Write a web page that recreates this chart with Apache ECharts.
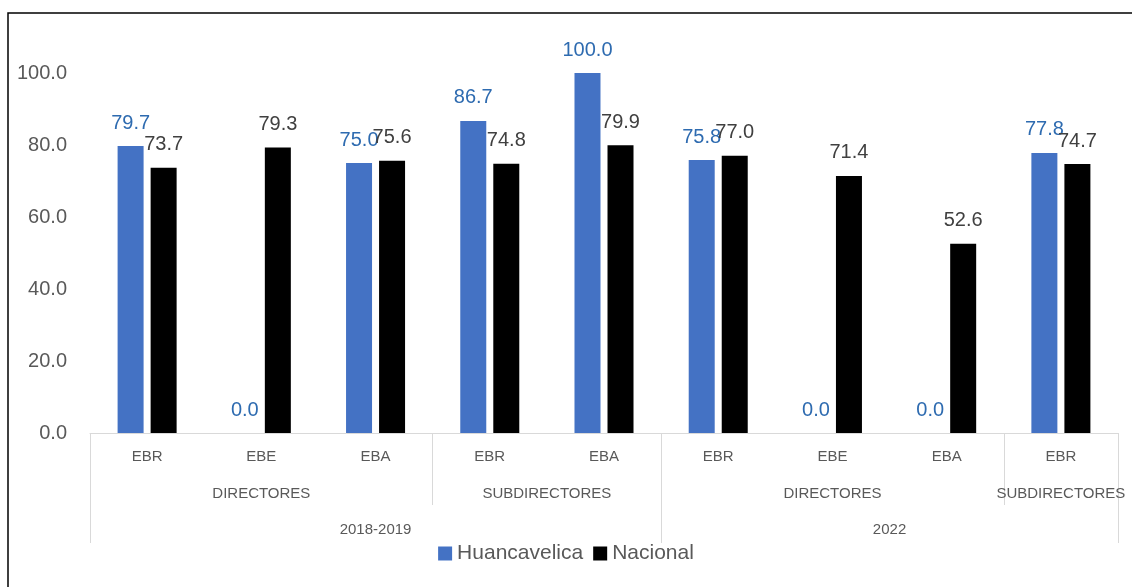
<!DOCTYPE html>
<html>
<head>
<meta charset="utf-8">
<script src="https://cdn.jsdelivr.net/npm/echarts@6/dist/echarts.min.js"></script>
<style>
  html, body { margin: 0; padding: 0; background: #fff; }
  #chart { width: 1132px; height: 587px; }
</style>
</head>
<body>
<div id="chart"></div>
<script>
// level 1 categories (bars)
const categories = ['EBR', 'EBE', 'EBA', 'EBR', 'EBA', 'EBR', 'EBE', 'EBA', 'EBR']
const huancavelica = [79.7, 0.0, 75.0, 86.7, 100.0, 75.8, 0.0, 0.0, 77.8]
const nacional = [73.7, 79.3, 75.6, 74.8, 79.9, 77.0, 71.4, 52.6, 74.7]
// level 2 and 3 groups: [label, number of categories spanned]
const roles = [['DIRECTORES', 3], ['SUBDIRECTORES', 2], ['DIRECTORES', 3], ['SUBDIRECTORES', 1]]
const periods = [['2018-2019', 5], ['2022', 4]]
const yTicks = [0, 20, 40, 60, 80, 100]

const FONT = 'Liberation Sans'
const GREY = '#595959'

// group axis on half-category steps: label at group middle, tick at group edges
function buildLevel(groups) {
  const n = categories.length * 2 + 1
  const data = new Array(n).fill('')
  const ticks = new Set()
  let start = 0
  groups.forEach(([name, span]) => {
    data[2 * start + span] = name
    ticks.add(2 * start)
    ticks.add(2 * (start + span))
    start += span
  })
  return { data, ticks }
}

const lvl2 = buildLevel(roles)
const lvl3 = buildLevel(periods)

function groupAxis(level, tickLen, margin) {
  return {
    type: 'category',
    position: 'bottom',
    gridIndex: 0,
    offset: 0,
    boundaryGap: false,
    data: level.data,
    axisLine: { show: false },
    axisTick: {
      show: true,
      length: tickLen,
      interval: (i) => level.ticks.has(i),
      lineStyle: { color: '#d9d9d9', width: 1 },
    },
    axisLabel: {
      interval: (i, v) => v !== '',
      margin: margin,
      fontSize: 15,
      fontFamily: FONT,
      color: GREY,
    },
    splitLine: { show: false },
  }
}

const chart = echarts.init(document.getElementById('chart'))

chart.setOption({
  animation: false,
  textStyle: { fontFamily: FONT },
  graphic: [
    {
      type: 'rect',
      shape: { x: 8, y: 13, width: 1300, height: 800 },
      style: { fill: 'none', stroke: '#000', lineWidth: 1.5 },
      silent: true,
      z: -1,
    },
  ],
  grid: { left: 90, right: 14, top: 73, bottom: 154, containLabel: false, outerBoundsMode: 'none' },
  legend: {
    data: ['Huancavelica', 'Nacional'],
    top: 538,
    left: 'center',
    icon: 'rect',
    itemWidth: 14,
    itemHeight: 14,
    itemGap: 10,
    textStyle: { fontSize: 21, color: GREY, fontFamily: FONT },
  },
  xAxis: [
    {
      type: 'category',
      position: 'bottom',
      data: categories,
      axisLine: { show: true, lineStyle: { color: '#d9d9d9', width: 1 } },
      axisTick: { show: false },
      axisLabel: { interval: 0, margin: 16, fontSize: 15, fontFamily: FONT, color: GREY },
    },
    groupAxis(lvl2, 72, 53),
    groupAxis(lvl3, 110, 89),
  ],
  yAxis: {
    type: 'value',
    min: yTicks[0],
    max: yTicks[yTicks.length - 1],
    interval: yTicks[1] - yTicks[0],
    axisLine: { show: false },
    axisTick: { show: false },
    splitLine: { show: false },
    axisLabel: {
      margin: 23,
      fontSize: 20,
      fontFamily: FONT,
      color: GREY,
      formatter: (v) => v.toFixed(1),
    },
  },
  series: [
    {
      name: 'Huancavelica',
      type: 'bar',
      data: huancavelica,
      barWidth: 26,
      barGap: '27%',
      itemStyle: { color: '#4472C4' },
      label: {
        show: true,
        position: 'top',
        distance: 13,
        fontSize: 20,
        fontFamily: FONT,
        color: '#2E6BB0',
        formatter: (p) => p.value.toFixed(1),
      },
    },
    {
      name: 'Nacional',
      type: 'bar',
      data: nacional,
      barWidth: 26,
      itemStyle: { color: '#000000' },
      label: {
        show: true,
        position: 'top',
        distance: 13,
        fontSize: 20,
        fontFamily: FONT,
        color: '#404040',
        formatter: (p) => p.value.toFixed(1),
      },
    },
  ],
})
</script>
</body>
</html>
